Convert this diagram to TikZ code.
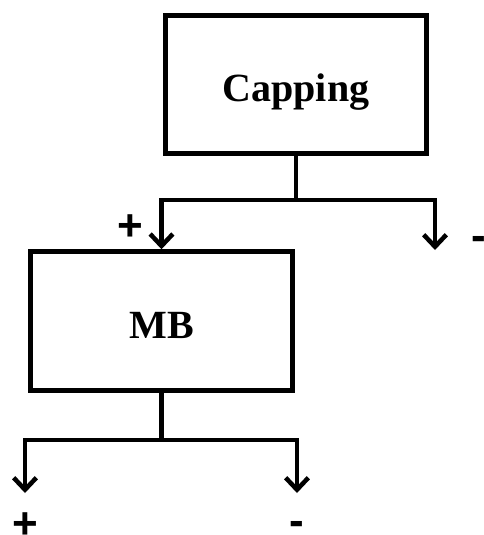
\documentclass[tikz,border=0pt]{standalone}
\usepackage{fontspec}
\setmainfont{Liberation Serif}
\newfontfamily\signfont{Liberation Sans}
\usetikzlibrary{arrows.meta}

\tikzset{
  stepbox/.style={draw, line width=3.6pt, minimum width=196pt, minimum height=104pt,
    text height=26pt, text depth=0pt,
    font=\bfseries\fontsize{30}{36}\selectfont},
  wire/.style={line width=3.4pt},
  arr/.style={wire, -{Straight Barb[length=9pt, width=17pt]}},
  sign/.style={inner sep=0pt, font=\signfont\bfseries\fontsize{33}{33}\selectfont}
}

\begin{document}
\begin{tikzpicture}[x=0.75pt, y=-0.75pt]
                \useasboundingbox (0, 0) rectangle (484, 535);

                \node[stepbox] (cap) at (296, 84.5) {Capping};
                \node[stepbox] (mb) at (161.5, 321) {MB};

                \coordinate (capfork) at (296, 200);
                \coordinate (capneg) at (435, 250);
                \coordinate (mbfork) at (161.5, 440);
                \coordinate (mbpos) at (25, 493);
                \coordinate (mbneg) at (297, 493);

                \draw[wire] (cap.south) -- (capfork);
                \draw[arr] (capfork) -| (mb.north);
                \draw[arr] (capfork) -| (capneg);

                \draw[wire] (mb.south) -- (mbfork);
                \draw[arr] (mbfork) -| (mbpos);
                \draw[arr] (mbfork) -| (mbneg);

                \node[sign] (cappluslabel) at (130, 228) {+};
                \node[sign] (capminuslabel) at (479, 243) {-};
                \node[sign] (mbpluslabel) at (25, 526) {+};
                \node[sign] (mbminuslabel) at (297, 528) {-};
            \end{tikzpicture}
\end{document}
